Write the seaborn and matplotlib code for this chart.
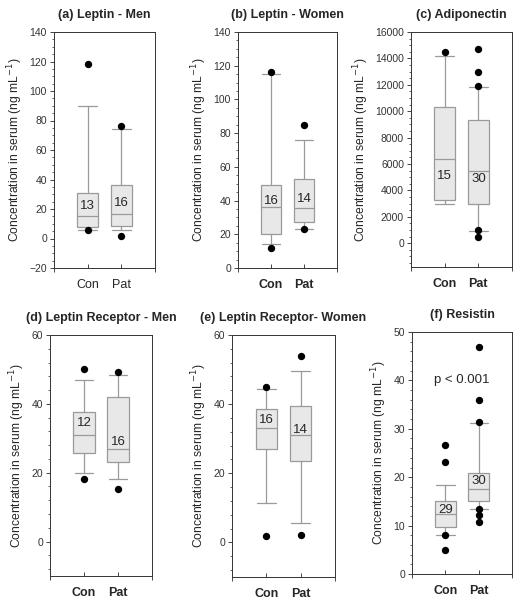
import matplotlib
matplotlib.use("Agg")
import matplotlib.pyplot as plt
import seaborn as sns
import pandas as pd
from matplotlib.ticker import MultipleLocator, FixedLocator

sns.set_style("ticks")
plt.rcParams['font.family'] = ['Liberation Sans', 'DejaVu Sans']

groups = ["Con", "Pat"]
titles = ["(a) Leptin - Men", "(b) Leptin - Women", "(c) Adiponectin",
          "(d) Leptin Receptor - Men", "(e) Leptin Receptor- Women", "(f) Resistin"]

# box summaries per panel: [Con, Pat]
q1 = [[8, 8.5], [20, 27], [3250, 2950], [25.7, 23], [27, 23.5], [9.7, 15]]
med = [[15, 16.5], [36, 35.5], [6350, 5500], [31, 27], [33, 31], [12.5, 17.5]]
q3 = [[31, 36], [49, 53], [10350, 9300], [37.5, 42], [38.5, 39.5], [15.1, 20.8]]
whis_lo = [[6, 6], [14, 23], [3000, 900], [20, 18.2], [11.3, 5.7], [8, 13.5]]
whis_hi = [[90, 74], [115, 76], [14150, 11850], [47, 48.5], [44.5, 49.5], [18.3, 31.2]]
outliers = [
    [[118, 6], [76, 2]],
    [[116, 12], [85, 23]],
    [[14500], [14750, 12950, 11900, 1000, 450]],
    [[50, 18.3], [49.3, 15.3]],
    [[45, 2], [54, 2.2]],
    [[26.7, 23.2, 8.1, 5], [47, 36, 31.4, 13.5, 12.1, 10.8]],
]
n_labels = [[13, 16], [16, 14], [15, 30], [12, 16], [16, 14], [29, 30]]
n_label_y = [[22, 24], [40, 41], [5100, 4900], [34.5, 29], [35.5, 32.5], [13.3, 19.2]]

ylims = [(-20, 140), (0, 140), (-1800, 16000), (-10, 60), (-10, 60), (0, 50)]
ymajor = [20, 20, 2000, 20, 20, 10]
yminor = [5, 5, 500, 4, 4, 2]

# axes rectangles in pixels: left, top, right, bottom
W, H = 526, 600
rects = [(54, 32, 155, 268), (238, 32, 337, 268), (411, 32, 512, 267),
         (50, 335, 152, 576), (232, 335, 335, 577), (412, 332, 512, 574)]

fig = plt.figure(figsize=(W / 100, H / 100), dpi=100)
box_face = "#e8e8e8"
edge = "#9a9a9a"

for i in range(6):
    l, t, r, b = rects[i]
    ax = fig.add_axes([l / W, 1 - b / H, (r - l) / W, (b - t) / H])
    stats = []
    for j in range(2):
        stats.append(dict(med=med[i][j], q1=q1[i][j], q3=q3[i][j],
                          whislo=whis_lo[i][j], whishi=whis_hi[i][j], fliers=[]))
    ax.bxp(stats, positions=[1, 2], widths=0.63, patch_artist=True,
           showfliers=False, capwidths=0.55,
           boxprops=dict(facecolor=box_face, edgecolor=edge, linewidth=0.9),
           medianprops=dict(color=edge, linewidth=0.9),
           whiskerprops=dict(color=edge, linewidth=0.9),
           capprops=dict(color=edge, linewidth=0.9))
    rows = []
    for j in range(2):
        for v in outliers[i][j]:
            rows.append({"x": j + 1, "y": v})
    df = pd.DataFrame(rows)
    sns.scatterplot(data=df, x="x", y="y", ax=ax, color="black", s=28,
                    edgecolor="black", linewidth=0, zorder=5)
    for j in range(2):
        ax.text(j + 1, n_label_y[i][j], str(n_labels[i][j]), ha="center",
                va="center", fontsize=9.5)
    if i == 5:
        ax.text(1.5, 40, "p < 0.001", ha="center", va="center", fontsize=9.5)

    ax.set_xlim(0, 3)
    ax.set_ylim(*ylims[i])
    ax.yaxis.set_major_locator(MultipleLocator(ymajor[i]))
    ax.yaxis.set_minor_locator(MultipleLocator(yminor[i]))
    ax.xaxis.set_major_locator(FixedLocator([1, 2]))
    ax.xaxis.set_minor_locator(FixedLocator([0, 3]))
    ax.set_xticklabels(groups, fontweight="normal" if i == 0 else "bold", fontsize=9)
    ax.tick_params(axis="y", which="major", labelsize=7.5, length=3, width=0.6,
                   direction="out", pad=2, labelcolor="#333333")
    ax.tick_params(axis="y", which="minor", length=1.8, width=0.5, direction="out")
    ax.tick_params(axis="x", which="major", length=3, width=0.6, direction="in", pad=8)
    ax.tick_params(axis="x", which="minor", length=3, width=0.6, direction="out")
    for sp in ax.spines.values():
        sp.set_visible(True)
        sp.set_linewidth(0.7)
        sp.set_color("#333333")
    ax.set_xlabel("")
    ax.set_ylabel("Concentration in serum (ng mL$^{-1}$)", fontsize=8.7, labelpad=3)
    ax.set_title(titles[i], fontweight="bold", fontsize=9, pad=10)

fig.savefig("out.png", dpi=100)
